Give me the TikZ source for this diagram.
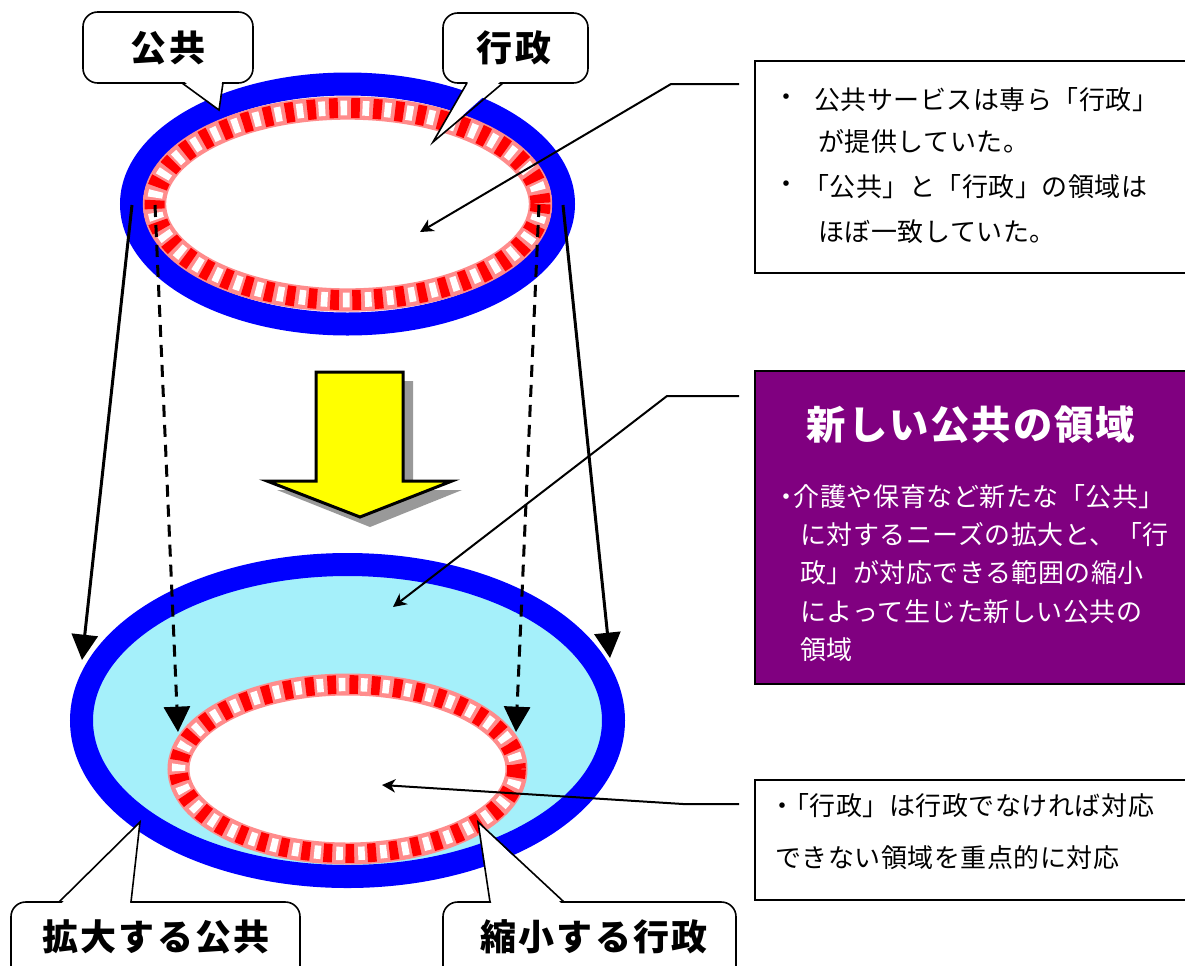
\documentclass[tikz,border=0pt]{standalone}
\usepackage{fontspec}
\setmainfont{Noto Sans CJK JP}
\newfontfamily\bodyfont{Noto Sans CJK JP}[LetterSpace=2]
\newfontfamily\calloutfont{Noto Sans CJK JP}[LetterSpace=6]
\newfontfamily\titlefont{Noto Sans CJK JP}[LetterSpace=5]
\usetikzlibrary{arrows.meta}
\definecolor{pureblue}{RGB}{0,0,255}
\definecolor{ringpink}{RGB}{255,140,140}
\definecolor{ringred}{RGB}{255,0,0}
\definecolor{skycyan}{RGB}{165,240,250}
\definecolor{boxpurple}{RGB}{128,0,128}
\definecolor{arrowyellow}{RGB}{255,255,0}
\definecolor{shadowgray}{RGB}{153,153,153}
\begin{document}
\begin{tikzpicture}[x=0.75pt,y=-0.75pt,
  bluering/.style={draw=pureblue, line width=17.25pt},
  pinkband/.style={draw=ringpink, line width=17.5pt},
  redbars/.style={draw=ringred, line width=15pt, dash pattern=on 6.5pt off 10pt},
  whitebars/.style={draw=white, line width=11pt, dash pattern=on 5pt off 11.5pt, dash phase=8pt},
  bigarrow/.style={line width=2.25pt, -{Triangle[length=19pt,width=19.5pt]}},
  dasharrow/.style={bigarrow, dash pattern=on 9pt off 6pt},
  leader/.style={line width=1.5pt, -{Stealth[length=10pt,width=10pt,inset=3pt]}},
  calloutbox/.style={draw=black, fill=white, line width=1.2pt, rounded corners=11pt},
  textbox/.style={draw=black, line width=2pt},
  bodytext/.style={font=\bodyfont\fontsize{19.5pt}{23pt}\selectfont, inner sep=0pt, anchor=west},
  calltext/.style={font=\calloutfont\bfseries\fontsize{27pt}{32pt}\selectfont, inner sep=0pt},
  titletext/.style={font=\titlefont\bfseries\fontsize{29.5pt}{34pt}\selectfont, inner sep=0pt, text=white}
]
\useasboundingbox (0,0) rectangle (1185,965);
\clip (0,0) rectangle (1185,965);

% ---------- top ellipse ----------
\draw[bluering] (347.5,204) ellipse [x radius=216, y radius=120];
\fill[white] (347.5,204) ellipse [x radius=193, y radius=96];
\draw[pinkband] (347.5,204) ellipse [x radius=193, y radius=96];
\draw[redbars] (347.5,204) ellipse [x radius=193, y radius=96];
\draw[whitebars] (347.5,204) ellipse [x radius=193, y radius=96];

% ---------- bottom ellipse ----------
\fill[skycyan] (347.5,720.5) ellipse [x radius=266, y radius=156];
\draw[bluering] (347.5,720.5) ellipse [x radius=266, y radius=156];
\fill[white] (347.5,769) ellipse [x radius=169, y radius=84.5];
\draw[pinkband, line width=16.5pt] (347.5,769) ellipse [x radius=169, y radius=84.5];
\draw[redbars, line width=14pt] (347.5,769) ellipse [x radius=169, y radius=84.5];
\draw[whitebars, line width=10pt] (347.5,769) ellipse [x radius=169, y radius=84.5];

% ---------- yellow arrow ----------
\fill[shadowgray] (326,381) -- (413,381) -- (413,490) -- (462,490) -- (370,527) -- (277,490) -- (326,490) -- cycle;
\draw[fill=arrowyellow, line width=2.25pt, line join=miter]
  (316,372) -- (403,372) -- (403,481) -- (452,481) -- (360,517) -- (267,481) -- (316,481) -- cycle;

% ---------- projection arrows ----------
\coordinate (ls) at (132,205);
\coordinate (le) at (82,660);
\coordinate (rs) at (563,205);
\coordinate (re) at (610,658);
\coordinate (dls) at (155,205);
\coordinate (dle) at (178,732);
\coordinate (drs) at (539,205);
\coordinate (dre) at (516,732);
\draw[bigarrow] (ls) -- (le);
\draw[bigarrow] (rs) -- (re);
\draw[dasharrow] (dls) -- (dle);
\draw[dasharrow] (drs) -- (dre);

% ---------- leaders ----------
\coordinate (l1a) at (739,84);
\coordinate (l1b) at (671,84);
\coordinate (l1c) at (420,232);
\coordinate (l2a) at (739,396);
\coordinate (l2b) at (667,396);
\coordinate (l2c) at (393,607);
\coordinate (l3a) at (739,804);
\coordinate (l3b) at (683,804);
\coordinate (l3c) at (382,785);
\draw[leader] (l1a) -- (l1b) -- (l1c);
\draw[leader] (l2a) -- (l2b) -- (l2c);
\draw[leader] (l3a) -- (l3b) -- (l3c);

% ---------- callouts ----------
\draw[calloutbox] (83,12) rectangle (253,83);
\fill[white] (183.5,81) -- (219,110) -- (222,81) -- cycle;
\draw[line width=1.2pt, line join=miter] (182,83) -- (219,110) -- (223,83);
\node[calltext] (c1) at (168,48) {公共};

\draw[calloutbox] (443,13) rectangle (588,83);
\fill[white] (468.5,81) -- (433,142) -- (501,81) -- cycle;
\draw[line width=1.2pt, line join=miter] (467,83) -- (433,142) -- (503,83);
\node[calltext] (c2) at (514,48) {行政};

\draw[calloutbox] (11,902) rectangle (300,990);
\fill[white] (61,904) -- (140,822) -- (130,904) -- cycle;
\draw[line width=1.2pt, line join=miter] (59,902) -- (140,822) -- (131,902);
\node[calltext] (c3) at (156,937) {拡大する公共};

\draw[calloutbox] (443,902) rectangle (736,990);
\fill[white] (491.5,904) -- (478,822) -- (562,904) -- cycle;
\draw[line width=1.2pt, line join=miter] (490,902) -- (478,822) -- (564,902);
\node[calltext] (c4) at (594,937) {縮小する行政};

% ---------- text boxes ----------
\draw[textbox, fill=white] (755,61) rectangle (1195,273);
\node[bodytext] (t1b) at (773,100) {・};
\node[bodytext] (t1) at (814,100) {公共サービスは専ら「行政」};
\node[bodytext] (t2) at (818,142) {が提供していた。};
\node[bodytext] (t3b) at (773,187) {・};
\node[bodytext] (t3) at (803,187) {「公共」と「行政」の領域は};
\node[bodytext] (t4) at (818,232) {ほぼ一致していた。};

\draw[textbox, fill=boxpurple] (755,371) rectangle (1195,684);
\node[titletext] (pt) at (971,425) {新しい公共の領域};
\node[bodytext, text=white] (p1) at (773,497) {・\kern-4pt 介護や保育など新たな「公共」};
\node[bodytext, text=white] (p2) at (800,535) {に対するニーズの拡大と、「行};
\node[bodytext, text=white] (p3) at (800,573) {政」が対応できる範囲の縮小};
\node[bodytext, text=white] (p4) at (800,612) {によって生じた新しい公共の};
\node[bodytext, text=white] (p5) at (800,650) {領域};

\draw[textbox, fill=white] (755,780) rectangle (1195,900);
\node[bodytext] (b1) at (769,806) {・\kern-9pt「行政」は行政でなければ対応};
\node[bodytext] (b2) at (775,858) {できない領域を重点的に対応};
\end{tikzpicture}
\end{document}
